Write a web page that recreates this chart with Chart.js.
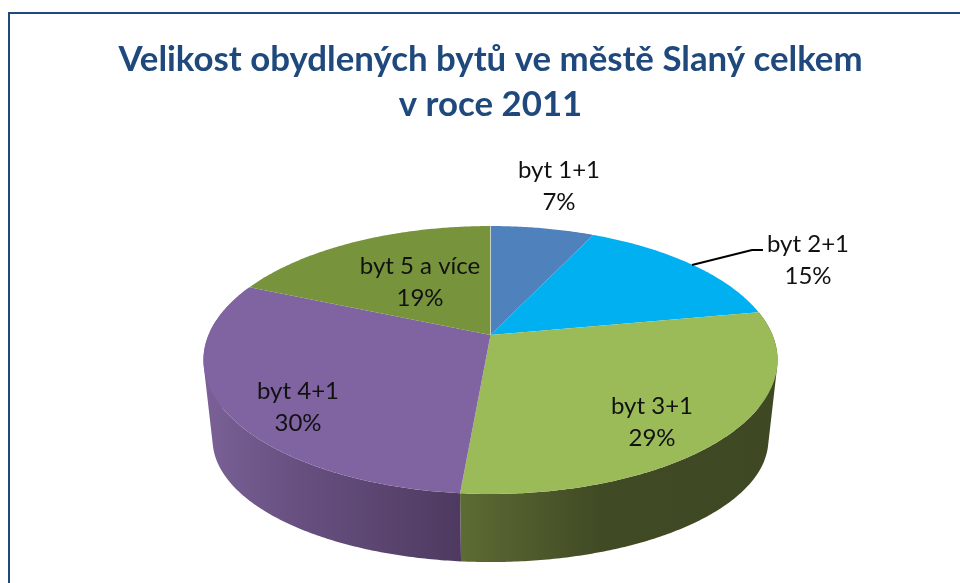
<!DOCTYPE html>
<html><head><meta charset="utf-8">
<style>html,body{margin:0;padding:0;background:#fff}canvas{display:block}</style>
<script src="https://cdn.jsdelivr.net/npm/chart.js@4"></script>
</head><body>
<canvas id="c" width="960" height="583"></canvas>
<script>
const titleLines = ['Velikost obydlených bytů ve městě Slaný celkem', 'v roce 2011'];
const categories = ['byt 1+1', 'byt 2+1', 'byt 3+1', 'byt 4+1', 'byt 5 a více'];
const values = [7, 15.1, 29.3, 30.1, 18.5];
const topColors = ['#4F81BD', '#00B0F0', '#9BBB59', '#8064A2', '#77933C'];

const labelAnchors = [[559,178],[808,252],[652,414],[298,399],[420,274]];
const wallStops = {2:[[461,'#5D6B34'],[600,'#404A24'],[780,'#3E4822']], 3:[[205,'#7A6096'],[300,'#675080'],[461,'#4E3A60']]};

const K = 0.1866;
const TOP = {cy:335, R:282, S:129.3};
const BOT = {cy:417, R:273, S:118};
function proj(p, cx, a){
  const u = Math.cos(a), v = Math.sin(a), d = 1 - K*v;
  return [cx + p.R*u/d, p.cy + p.S*v/d];
}
function samples(s,e){const n=Math.max(2,Math.ceil((e-s)/0.01)),o=[];for(let i=0;i<=n;i++)o.push(s+(e-s)*i/n);return o;}

const pie3d = {
  id:'pie3d',
  beforeDatasetDraw(chart, args){
    const ctx = chart.ctx, arcs = chart.getDatasetMeta(args.index).data;
    const cx = arcs[0].x;
    // side wall: one path made of consistently wound quads, so the silhouette stays closed
    arcs.forEach((arc,i)=>{
      const stops = wallStops[i]; if(!stops) return;
      const x0=stops[0][0],x1=stops[stops.length-1][0];
      const g = ctx.createLinearGradient(x0,0,x1,0);
      stops.forEach(st=>g.addColorStop((st[0]-x0)/(x1-x0),st[1]));
      const as = samples(arc.startAngle,arc.endAngle);
      ctx.fillStyle=g;
      ctx.beginPath();
      for(let j=0;j<as.length-1;j++){
        let q=[proj(TOP,cx,as[j]),proj(TOP,cx,as[j+1]),proj(BOT,cx,as[j+1]),proj(BOT,cx,as[j])];
        let area=0;
        q.forEach((p,k)=>{const n=q[(k+1)%4];area+=p[0]*n[1]-n[0]*p[1];});
        if(area<0) q.reverse();
        q.forEach((p,k)=>k?ctx.lineTo(p[0],p[1]):ctx.moveTo(p[0],p[1]));
        ctx.closePath();
      }
      ctx.fill('nonzero');
    });
    // top face
    arcs.forEach((arc,i)=>{
      ctx.fillStyle=arc.options.backgroundColor;
      ctx.beginPath();ctx.moveTo(cx,TOP.cy);
      samples(arc.startAngle,arc.endAngle).forEach(a=>{const p=proj(TOP,cx,a);ctx.lineTo(p[0],p[1]);});
      ctx.closePath();ctx.fill();
    });
    // seam at twelve o'clock
    ctx.strokeStyle='rgba(215,220,210,.8)';ctx.lineWidth=1;
    ctx.beginPath();ctx.moveTo(cx,TOP.cy);ctx.lineTo(cx,TOP.cy-TOP.S/(1+K));ctx.stroke();
    return false;
  },
  afterDatasetsDraw(chart){
    const ctx=chart.ctx, total=values.reduce((a,b)=>a+b,0);
    // leader line
    ctx.strokeStyle='#000';ctx.lineWidth=2;ctx.beginPath();ctx.moveTo(692,265);ctx.lineTo(752,250);ctx.lineTo(763,250);ctx.stroke();
    ctx.fillStyle='#111';ctx.textAlign='center';ctx.textBaseline='alphabetic';
    ctx.font='24px Lato';
    categories.forEach((c,i)=>{
      const [x,y]=labelAnchors[i];
      ctx.fillText(c,x,y);
      ctx.fillText(Math.round(values[i]/total*100)+'%',x,y+32);
    });
  },
  beforeDraw(chart){
    const ctx=chart.ctx;
    ctx.fillStyle='#fff';ctx.fillRect(0,0,960,583);
    ctx.strokeStyle='#1F497D';ctx.lineWidth=2;
    ctx.beginPath();ctx.moveTo(9,583);ctx.lineTo(9,13);ctx.lineTo(960,13);ctx.stroke();
  }
};

new Chart(document.getElementById('c'),{
  type:'pie',
  data:{labels:categories,datasets:[{data:values,backgroundColor:topColors,borderWidth:0}]},
  options:{
    responsive:false,animation:false,
    layout:{padding:{left:21,right:0,top:0,bottom:33}},
    plugins:{
      legend:{display:false},tooltip:{enabled:false},
      title:{display:true,text:titleLines,color:'#1F497D',align:'center',
        font:{family:'Lato',size:34.8,weight:'bold',lineHeight:1.293},padding:{top:37,bottom:30}}
    }
  },
  plugins:[pie3d]
});
</script>
</body></html>
